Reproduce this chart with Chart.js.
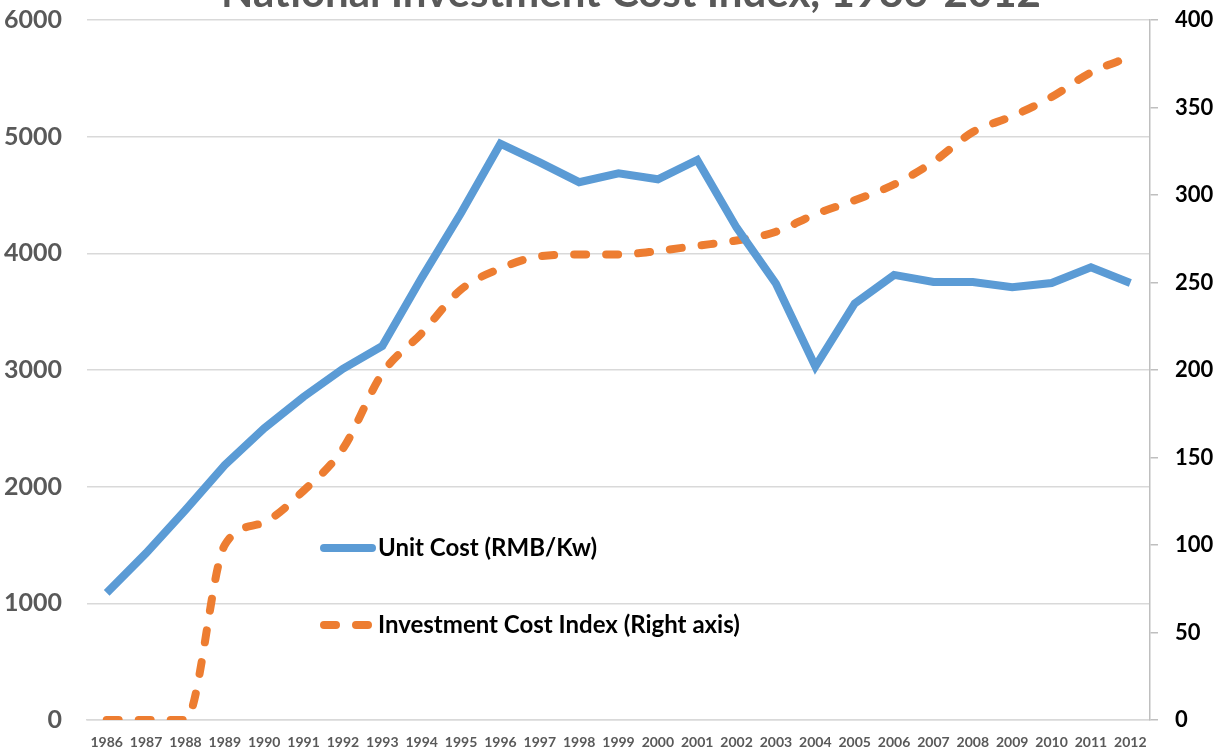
<!DOCTYPE html>
<html>
<head>
<meta charset="utf-8">
<script src="https://cdn.jsdelivr.net/npm/chart.js@4.4.1/dist/chart.umd.min.js"></script>
<style>
  html, body { margin: 0; padding: 0; background: #fff; }
  #wrap { width: 1225px; height: 754px; position: relative; }
</style>
</head>
<body>
<div id="wrap"><canvas id="chart"></canvas></div>
<script>
const years = ['1986','1987','1988','1989','1990','1991','1992','1993','1994','1995','1996','1997','1998','1999',
  '2000','2001','2002','2003','2004','2005','2006','2007','2008','2009','2010','2011','2012'];
const unitCost = [1090, 1430, 1800, 2185, 2500, 2770, 3010, 3205, 3790, 4345, 4940, 4780, 4610, 4685,
  4635, 4800, 4220, 3740, 3030, 3570, 3815, 3755, 3755, 3710, 3745, 3880, 3745];
const costIndex = [0, 0, 0, 100, 113, 131, 155, 198, 221, 246, 258, 265, 266, 266,
  268, 271, 274, 279, 289, 297, 306, 319, 336, 345, 356, 370, 379];
const leftTicks = [0, 1000, 2000, 3000, 4000, 5000, 6000];
const rightTicks = [0, 50, 100, 150, 200, 250, 300, 350, 400];
const chartTitle = 'National Investment Cost Index, 1986-2012';

const FONT = 'Lato, "Open Sans", sans-serif';

// title sits half outside the picture, legend sits inside the plot
const overlay = {
  id: 'overlay',
  afterDraw(chart) {
    const ctx = chart.ctx;
    ctx.save();
    ctx.fillStyle = '#595959';
    ctx.font = 'bold 42px ' + FONT;
    ctx.textAlign = 'center';
    ctx.textBaseline = 'alphabetic';
    ctx.fillText(chartTitle, 631, 7);

    const rows = [548, 625];
    chart.data.datasets.forEach((ds, i) => {
      const y = rows[i];
      ctx.strokeStyle = ds.borderColor;
      ctx.lineWidth = 8;
      ctx.lineCap = 'round';
      ctx.setLineDash(ds.borderDash || []);
      ctx.beginPath();
      ctx.moveTo(324, y);
      ctx.lineTo(372, y);
      ctx.stroke();
      ctx.setLineDash([]);
      ctx.fillStyle = '#000';
      ctx.font = 'bold 24px ' + FONT;
      ctx.textAlign = 'left';
      ctx.textBaseline = 'middle';
      ctx.fillText(ds.label, 378, y);
    });
    ctx.restore();
  }
};

const noPad = s => { s.paddingTop = 0; s.paddingBottom = 0; };

new Chart(document.getElementById('chart'), {
  type: 'line',
  data: {
    labels: years,
    datasets: [{
      label: 'Unit Cost (RMB/Kw)',
      data: unitCost,
      yAxisID: 'y',
      borderColor: '#5b9bd5',
      borderWidth: 8,
      pointRadius: 0,
      tension: 0
    }, {
      label: 'Investment Cost Index (Right axis)',
      data: costIndex,
      yAxisID: 'y2',
      borderColor: '#ed7d31',
      borderWidth: 8,
      borderDash: [12, 20],
      borderCapStyle: 'round',
      pointRadius: 0,
      cubicInterpolationMode: 'monotone'
    }]
  },
  options: {
    responsive: true,
    maintainAspectRatio: false,
    animation: false,
    layout: { padding: { top: 20, left: 0, right: 0, bottom: 0 } },
    plugins: {
      legend: { display: false },
      title: { display: false },
      tooltip: { enabled: false }
    },
    scales: {
      x: {
        offset: true,
        grid: { display: false, drawTicks: false },
        border: { display: true, color: '#d9d9d9', width: 1.5 },
        ticks: { color: '#595959', font: { family: FONT, size: 14, weight: 'bold' }, padding: 14, maxRotation: 0, autoSkip: false },
        afterFit: s => { s.height = 34; s.paddingLeft = 0; s.paddingRight = 0; }
      },
      y: {
        position: 'left',
        min: 0, max: 6000,
        afterBuildTicks: s => { s.ticks = leftTicks.map(v => ({ value: v })); },
        grid: { color: '#d9d9d9', lineWidth: 1.5, drawTicks: false },
        border: { display: false },
        ticks: { color: '#595959', font: { family: FONT, size: 25, weight: 'bold' }, padding: 25, callback: v => String(v) },
        afterFit: s => { s.width = 87; noPad(s); }
      },
      y2: {
        position: 'right',
        min: 0, max: 400,
        afterBuildTicks: s => { s.ticks = rightTicks.map(v => ({ value: v })); },
        grid: { drawOnChartArea: false, drawTicks: true, tickLength: 8, color: '#bfbfbf', lineWidth: 1.5 },
        border: { display: true, color: '#bfbfbf', width: 1.5 },
        ticks: { color: '#000', font: { family: FONT, size: 22, weight: 'bold' }, padding: 17, callback: v => String(v) },
        afterFit: s => { s.width = 75; noPad(s); }
      }
    }
  },
  plugins: [overlay]
});
</script>
</body>
</html>
